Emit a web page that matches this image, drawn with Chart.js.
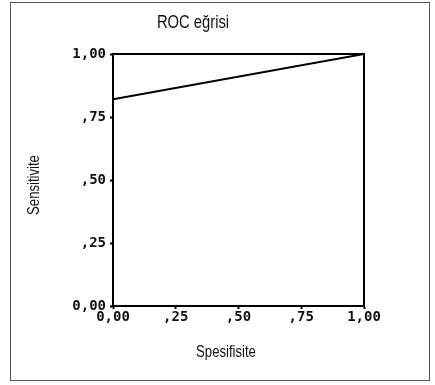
<!DOCTYPE html>
<html>
<head>
<meta charset="utf-8">
<script src="https://cdn.jsdelivr.net/npm/chart.js@4"></script>
<style>
  body { margin: 0; background: #fff; }
</style>
</head>
<body>
<canvas id="roc" width="435" height="385"></canvas>
<script>
// ROC curve points (1 - specificity on x, sensitivity on y)
const specificity = [0, 1];
const sensitivity = [0.82, 1];
const tickValues = [0, 0.25, 0.5, 0.75, 1];
const tickLabels = ["0,00", ",25", ",50", ",75", "1,00"];

const titleText = "ROC eğrisi";
const xTitle = "Spesifisite";
const yTitle = "Sensitivite";

const labelFont = { family: "DejaVu Sans Mono", size: 14, weight: "bold" };

// condensed text: no narrow font installed, so squeeze Liberation Sans
function narrowText(c, text, x, y, size, angle) {
  c.save();
  c.translate(x, y);
  c.rotate(angle);
  c.scale(0.82, 1);
  c.font = size + "px 'Liberation Sans', Arial, sans-serif";
  c.fillText(text, 0, 0);
  c.restore();
}

// frame, box around plot and the texts
const decorations = {
  id: "decorations",
  beforeDraw(chart) {
    const c = chart.ctx;
    c.save();
    c.strokeStyle = "#555";
    c.lineWidth = 1;
    c.strokeRect(10.5, 2.5, 419, 378);
    c.restore();
  },
  afterDatasetsDraw(chart) {
    const c = chart.ctx;
    const a = chart.chartArea;
    c.save();
    c.strokeStyle = "#000";
    c.lineWidth = 2;
    c.strokeRect(a.left, a.top, a.right - a.left, a.bottom - a.top);

    c.fillStyle = "#111";
    c.textAlign = "center";
    c.textBaseline = "middle";
    narrowText(c, titleText, 193, 23, 18, 0);
    narrowText(c, xTitle, 226, 353, 16, 0);
    narrowText(c, yTitle, 35, 185, 16, -Math.PI / 2);
    c.restore();
  }
};

const points = specificity.map((x, i) => ({ x: x, y: sensitivity[i] }));

new Chart(document.getElementById("roc").getContext("2d"), {
  type: "line",
  data: {
    datasets: [
      {
        data: points,
        borderColor: "#000",
        borderWidth: 2,
        pointRadius: 0,
        fill: false,
        tension: 0
      }
    ]
  },
  options: {
    responsive: false,
    animation: false,
    layout: { padding: { top: 54, right: 71, left: 0, bottom: 0 } },
    plugins: {
      legend: { display: false },
      tooltip: { enabled: false }
    },
    scales: {
      x: {
        type: "linear",
        min: 0,
        max: 1,
        afterBuildTicks: (scale) => {
          scale.ticks = tickValues.map((v) => ({ value: v }));
        },
        afterFit: (scale) => {
          scale.height = 79;
        },
        ticks: {
          color: "#111",
          font: labelFont,
          padding: 0,
          maxRotation: 0,
          callback: (v) => tickLabels[tickValues.indexOf(v)]
        },
        grid: {
          display: true,
          drawOnChartArea: false,
          tickLength: 3,
          tickWidth: 2,
          color: "#000"
        },
        border: { display: true, color: "#000", width: 2 }
      },
      y: {
        type: "linear",
        min: 0,
        max: 1,
        afterBuildTicks: (scale) => {
          scale.ticks = tickValues.map((v) => ({ value: v }));
        },
        afterFit: (scale) => {
          scale.width = 113;
        },
        ticks: {
          color: "#111",
          font: labelFont,
          padding: 4,
          callback: (v) => tickLabels[tickValues.indexOf(v)]
        },
        grid: {
          display: true,
          drawOnChartArea: false,
          tickLength: 3,
          tickWidth: 2,
          color: "#000"
        },
        border: { display: true, color: "#000", width: 2 }
      }
    }
  },
  plugins: [decorations]
});
</script>
</body>
</html>
